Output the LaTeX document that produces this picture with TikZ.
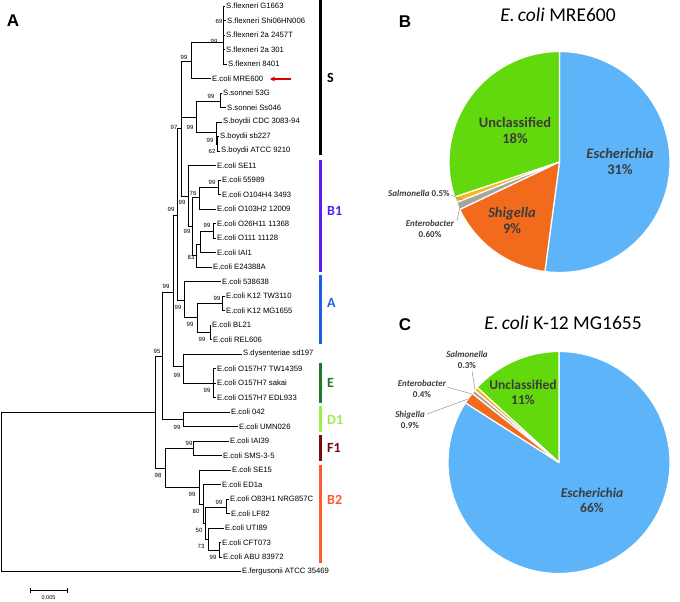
\documentclass[tikz,border=0pt]{standalone}
\usepackage{fontspec}
\setmainfont{Liberation Sans}
\newfontfamily\carl{Carlito}
\usetikzlibrary{arrows.meta}
\definecolor{pieblue}{HTML}{5DB4F8}
\definecolor{piegreen}{HTML}{62D90C}
\definecolor{pieorange}{HTML}{F26A1B}
\definecolor{pieyellow}{HTML}{F4B71C}
\definecolor{piegrey}{HTML}{A5A5A5}
\definecolor{cBone}{HTML}{5A1FF0}
\definecolor{cA}{HTML}{1F5FE6}
\definecolor{cE}{HTML}{1C7A2C}
\definecolor{cDone}{HTML}{9AEE4A}
\definecolor{cFone}{HTML}{7A0A0A}
\definecolor{cBtwo}{HTML}{FF5A2E}
\definecolor{pietext}{HTML}{3C3C3C}
\newcommand{\pieslice}[4]{\fill[#4, draw=white, line width=1.2pt, line join=round] (0,0) -- (#2:#1) arc[start angle=#2, end angle=#3, radius=#1] -- cycle;}
\begin{document}
\begin{tikzpicture}[x=1pt,y=-1pt,
  leaf/.style={anchor=west, inner sep=1pt, font=\fontsize{7.7}{8}\selectfont},
  bs/.style={inner sep=0pt, font=\fontsize{6}{6}\selectfont},
  br/.style={line width=0.75pt},
  bar/.style={line width=3pt},
  clab/.style={anchor=west, inner sep=0pt, font=\carl\bfseries\fontsize{14}{14}\selectfont},
  panel/.style={inner sep=0pt, font=\bfseries\fontsize{17}{18}\selectfont},
  ptitle/.style={inner sep=0pt, font=\carl\fontsize{19.5}{20}\selectfont},
  plab/.style={inner sep=0pt, align=center, text=pietext, font=\carl\bfseries\fontsize{14.5}{16}\selectfont},
  plabc/.style={inner sep=0pt, align=center, text=pietext, font=\carl\bfseries\fontsize{13.5}{15}\selectfont},
  slab/.style={inner sep=0pt, align=center, text=pietext, font=\carl\bfseries\fontsize{9}{11}\selectfont},
  lead/.style={draw=gray, line width=0.4pt},
]
\useasboundingbox (0,0) rectangle (680,602);
\fill[white] (0,0) rectangle (680,602);

% ---------- leaves ----------
\foreach \i/\xx/\t in {
0/225/S.flexneri G1663, 1/226/S.flexneri Shi06HN006, 2/225/S.flexneri 2a 2457T,
3/225/S.flexneri 2a 301, 4/227/S.flexneri 8401, 5/211/E.coli MRE600,
6/222/S.sonnei 53G, 7/226/S.sonnei Ss046, 8/222/S.boydii CDC 3083-94,
9/219/S.boydii sb227, 10/220/S.boydii ATCC 9210, 11/216/E.coli SE11,
12/221/E.coli 55989, 13/221/E.coli O104H4 3493, 14/216/E.coli O103H2 12009,
15/216/E.coli O26H11 11368, 16/216/E.coli O111 11128, 17/216/E.coli IAI1,
18/212/E.coli E24388A, 19/221/E.coli 538638, 20/225/E.coli K12 TW3110,
21/225/E.coli K12 MG1655, 22/211/E.coli BL21, 23/212/E.coli REL606,
24/242/S.dysenteriae sd197, 25/216/E.coli O157H7 TW14359, 26/216/E.coli O157H7 sakai,
27/216/E.coli O157H7 EDL933, 28/230/E.coli 042, 29/238/E.coli UMN026,
30/229/E.coli IAI39, 31/222/E.coli SMS-3-5, 32/231/E.coli SE15,
33/221/E.coli ED1a, 34/229/E.coli O83H1 NRG857C, 35/230/E.coli LF82,
36/224/E.coli UTI89, 37/221/E.coli CFT073, 38/222/E.coli ABU 83972,
39/241/E.fergusonii ATCC 35469}
  \node[leaf] (L\i) at (\xx,{6+14.5*\i}) {\t};

% ---------- internal nodes ----------
\coordinate (FLX) at (223,42);
\coordinate (FM) at (191,61);
\coordinate (SO) at (220,101);
\coordinate (BOb) at (217.5,144);
\coordinate (BOa) at (216,132);
\coordinate (SB) at (196,117);
\coordinate (S) at (181.5,89);
\coordinate (SBone) at (181.5,128);
\coordinate (Ba) at (218,187);
\coordinate (Bb) at (199,197);
\coordinate (Bc) at (213,231);
\coordinate (Bd) at (200,244);
\coordinate (Be) at (196,255);
\coordinate (Bf) at (192,226);
\coordinate (G) at (188,196);
\coordinate (SBA) at (177,215);
\coordinate (An) at (184,300);
\coordinate (KB) at (197,317.5);
\coordinate (K12) at (222,303);
\coordinate (BL) at (210,332);
\coordinate (P99) at (173,292);
\coordinate (En) at (183,366);
\coordinate (O157) at (213,383);
\coordinate (N95) at (162,356);
\coordinate (Dn) at (183,419);
\coordinate (ING) at (155,412);
\coordinate (FB) at (165,468);
\coordinate (Fn) at (193,448);
\coordinate (B2n) at (199,487);
\coordinate (N80) at (203,504);
\coordinate (N50) at (205,523);
\coordinate (O83) at (226,507);
\coordinate (N73) at (208,539);
\coordinate (CFT) at (219,550);
\coordinate (ROOT) at (1,492);

\foreach \p/\c in {FLX/L0.west, FLX/L1.west, FLX/L2.west, FLX/L3.west, FLX/L4.west,
FM/FLX, FM/L5.west, SO/L6.west, SO/L7.west, BOb/L9.west, BOb/L10.west,
BOa/L8.west, BOa/BOb, SB/SO, SB/BOa, S/FM, S/SB, SBone/S, SBone/G,
Ba/L12.west, Ba/L13.west, Bb/Ba, Bb/L14.west, Bc/L15.west, Bc/L16.west,
Bd/Bc, Bd/L17.west, Be/Bd, Be/L18.west, Bf/Bb, Bf/Be, G/L11.west, G/Bf,
SBA/SBone, SBA/An, An/L19.west, An/KB, KB/K12, KB/BL, K12/L20.west, K12/L21.west,
BL/L22.west, BL/L23.west, P99/SBA, P99/En, En/L24.west, En/O157,
O157/L25.west, O157/L26.west, O157/L27.west, N95/P99, N95/Dn,
Dn/L28.west, Dn/L29.west, ING/N95, ING/FB, FB/Fn, FB/B2n,
Fn/L30.west, Fn/L31.west, B2n/L32.west, B2n/N80, N80/L33.west, N80/N50,
N50/O83, N50/N73, O83/L34.west, O83/L35.west, N73/L36.west, N73/CFT,
CFT/L37.west, CFT/L38.west, ROOT/ING, ROOT/L39.west}
  \draw[br] (\p) |- (\c);

% ---------- bootstrap values ----------
\foreach \k/\xx/\yy/\v in {1/214/41/99, 2/219/21/69, 3/184/57/99, 4/211/96/99,
5/210/140/99, 6/212/151/62, 7/190/127/99, 8/174/127/97, 9/212/182/99,
10/193/193/76, 11/182/202/99, 12/171/209/99, 13/187/231/99, 14/207/225/99,
15/191/257/83, 16/166/286/99, 17/178/307/99, 18/217/298/99, 19/190/324/99,
20/202/339/99, 21/157/351/95, 22/177/375/99, 23/207/390/99, 24/177/427/99,
25/189/443/99, 26/158/475/98, 27/192/494/99, 28/219/502/99, 29/196/511/80,
30/199/530/50, 31/201/546/73, 32/213/557/99}
  \node[bs] (bs\k) at (\xx,\yy) {\v};

% red arrow
\coordinate (arS) at (291,79);
\coordinate (arE) at (270,79);
\draw[red!85!black, line width=1.1pt, -{Stealth[length=5pt,width=5pt]}] (arS) -- (arE);

% scale bar
\coordinate (sbL) at (30,590);
\coordinate (sbR) at (67,590);
\draw[line width=0.6pt] (sbL) -- (sbR);
\draw[line width=0.6pt] ([yshift=-2.5pt]sbL) -- ([yshift=2.5pt]sbL);
\draw[line width=0.6pt] ([yshift=-2.5pt]sbR) -- ([yshift=2.5pt]sbR);
\node[bs, font=\fontsize{5.5}{6}\selectfont] (sbT) at (48.5,598) {0.005};

% ---------- clade bars ----------
\draw[bar, black] (320,0.5) -- (320,155);
\draw[bar, cBone] (320,160) -- (320,272);
\draw[bar, cA] (320,275) -- (320,344);
\draw[bar, cE] (320,363) -- (320,403);
\draw[bar, cDone] (320,406) -- (320,432);
\draw[bar, cFone] (320,435) -- (320,461);
\draw[bar, cBtwo] (320,465) -- (320,563);
\node[clab, text=black] (cS) at (327,78) {S};
\node[clab, text=cBone] (cB1) at (327,211) {B1};
\node[clab, text=cA] (cAl) at (327,303) {A};
\node[clab, text=cE] (cEl) at (327,383) {E};
\node[clab, text=cDone] (cD1) at (327,420) {D1};
\node[clab, text=cFone] (cF1) at (327,448) {F1};
\node[clab, text=cBtwo] (cB2) at (327,500) {B2};

% ---------- panel letters & titles ----------
\node[panel] (pA) at (13,21) {A};
\node[panel] (pB) at (405,22) {B};
\node[panel] (pC) at (405,325) {C};
\node[ptitle] (tB) at (558,15) {\textit{E.\,coli} MRE600};
\node[ptitle] (tC) at (563,323) {\textit{E.\,coli} K-12 MG1655};

% ---------- pie B ----------
\begin{scope}[shift={(559.5,162)}, yscale=-1]
\pieslice{110.5}{-97.6}{90}{pieblue}
\pieslice{110.5}{90}{198.5}{piegreen}
\pieslice{110.5}{198.5}{201.5}{pieyellow}
\pieslice{110.5}{201.5}{205.5}{piegrey}
\pieslice{110.5}{205.5}{262.4}{pieorange}
\end{scope}
\node[plab] (bU) at (515,130) {Unclassified\\18\%};
\node[plab] (bE) at (620,161) {\textit{Escherichia}\\31\%};
\node[plab] (bS) at (512,220) {\textit{Shigella}\\9\%};
\node[slab, anchor=east] (bSal) at (450,193) {\textit{Salmonella} 0.5\%};
\node[slab] (bEnt) at (430,229) {\textit{Enterobacter}\\0.60\%};
\coordinate (bSalA) at (451,195);
\coordinate (bSalB) at (463,200);
\coordinate (bEntA) at (457,221);
\coordinate (bEntB) at (460,206);
\draw[lead] (bSalA) -- (bSalB);
\draw[lead] (bEntA) -- (bEntB);

% ---------- pie C ----------
\begin{scope}[shift={(559,462.5)}, yscale=-1]
\pieslice{111}{147.5}{450}{pieblue}
\pieslice{111}{90}{137.5}{piegreen}
\pieslice{111}{137.5}{139.5}{pieyellow}
\pieslice{111}{139.5}{141.5}{piegrey}
\pieslice{111}{141.5}{147.5}{pieorange}
\end{scope}
\node[plabc] (cU) at (523,392) {Unclassified\\11\%};
\node[plabc] (cEs) at (592,500) {\textit{Escherichia}\\66\%};
\node[slab] (cSal) at (467,360) {\textit{Salmonella}\\0.3\%};
\node[slab] (cEnt) at (422,389) {\textit{Enterobacter}\\0.4\%};
\node[slab] (cShi) at (410,420) {\textit{Shigella}\\0.9\%};
\coordinate (cSalA) at (472,371);
\coordinate (cSalB) at (475,390);
\coordinate (cEntA) at (447,387);
\coordinate (cEntB) at (472,394);
\coordinate (cShiA) at (427,414);
\coordinate (cShiB) at (468,399);
\draw[lead] (cSalA) -- (cSalB);
\draw[lead] (cEntA) -- (cEntB);
\draw[lead] (cShiA) -- (cShiB);
\end{tikzpicture}
\end{document}
